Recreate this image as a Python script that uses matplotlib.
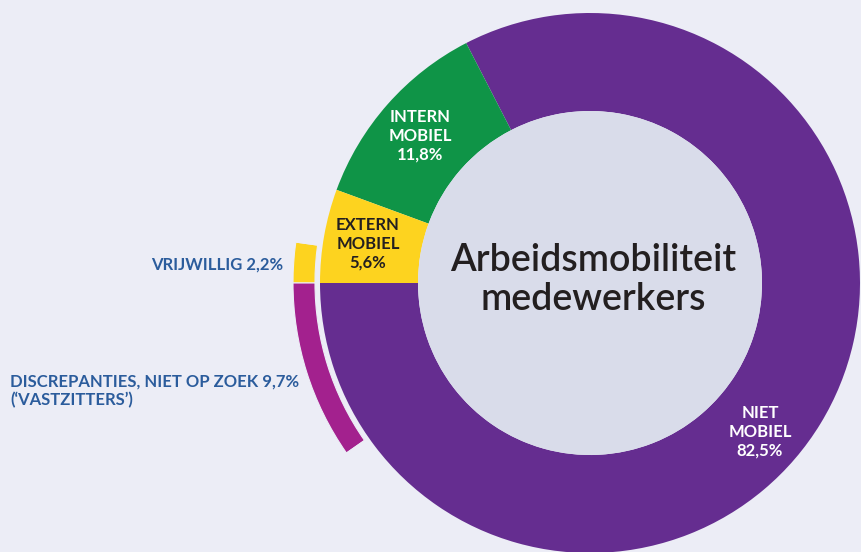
import matplotlib.pyplot as plt
from matplotlib.patches import Circle

# main donut: share of employees (%)
main_labels = ['NIET\nMOBIEL\n82,5%', 'INTERN\nMOBIEL\n11,8%', 'EXTERN\nMOBIEL\n5,6%']
main_values = [82.5, 11.8, 5.6]
main_colors = ['#652d90', '#0f9447', '#fdd31f']

# outer ring: breakdown of the non-mobile group
ring_labels = ['VRIJWILLIG 2,2%', "DISCREPANTIES, NIET OP ZOEK 9,7%\n(\u2018VASTZITTERS\u2019)"]
ring_values = [2.2, 9.7]
ring_colors = ['#fdd31f', '#a3218e']

title = 'Arbeidsmobiliteit\nmedewerkers'

bg = '#ecedf6'
W, H = 861, 552
cx, cy = 590, H - 283
r_out, r_in = 270, 172

fig = plt.figure(figsize=(W / 100, H / 100), dpi=100, facecolor=bg)
ax = fig.add_axes([0, 0, 1, 1])
ax.set_facecolor(bg)

ax.pie(main_values, colors=main_colors, startangle=180, counterclock=True,
       center=(cx, cy), radius=r_out, normalize=True,
       wedgeprops=dict(width=r_out - r_in, linewidth=0))
ax.add_patch(Circle((cx, cy), r_in, facecolor='#d9dcea', edgecolor='none', zorder=3))

rest = 100 - sum(ring_values)
ax.pie(ring_values + [rest], colors=ring_colors + ['none'],
       startangle=180 - ring_values[0] * 3.6, counterclock=True,
       center=(cx, cy), radius=297, normalize=True,
       wedgeprops=dict(width=22, edgecolor=bg, linewidth=0.8))

ax.set_xlim(0, W)
ax.set_ylim(0, H)
ax.set_aspect('equal')
ax.axis('off')

fam = ['Lato', 'DejaVu Sans']
lab = dict(family=fam, fontweight='bold', fontsize=12,
           ha='center', va='center', linespacing=1.2)
ax.text(420, H - 136, main_labels[1], color='white', zorder=5, **lab)
ax.text(368, H - 244, main_labels[2], color='#231f20', zorder=5, **lab)
ax.text(760, H - 432, main_labels[0], color='white', zorder=5, **lab)

blue = '#2b5c9c'
ax.text(283, H - 265, ring_labels[0], color=blue, ha='right', va='center',
        family=fam, fontweight='bold', fontsize=12)
ax.text(10, H - 391, ring_labels[1], color=blue, ha='left', va='center',
        family=fam, fontweight='bold', fontsize=12, linespacing=1.2)

ax.text(593, H - 280, title, color='#231f20', ha='center', va='center',
        family=fam, fontweight='semibold', fontsize=27,
        linespacing=1.12, zorder=5)

fig.savefig('out.png', dpi=100, facecolor=bg)
